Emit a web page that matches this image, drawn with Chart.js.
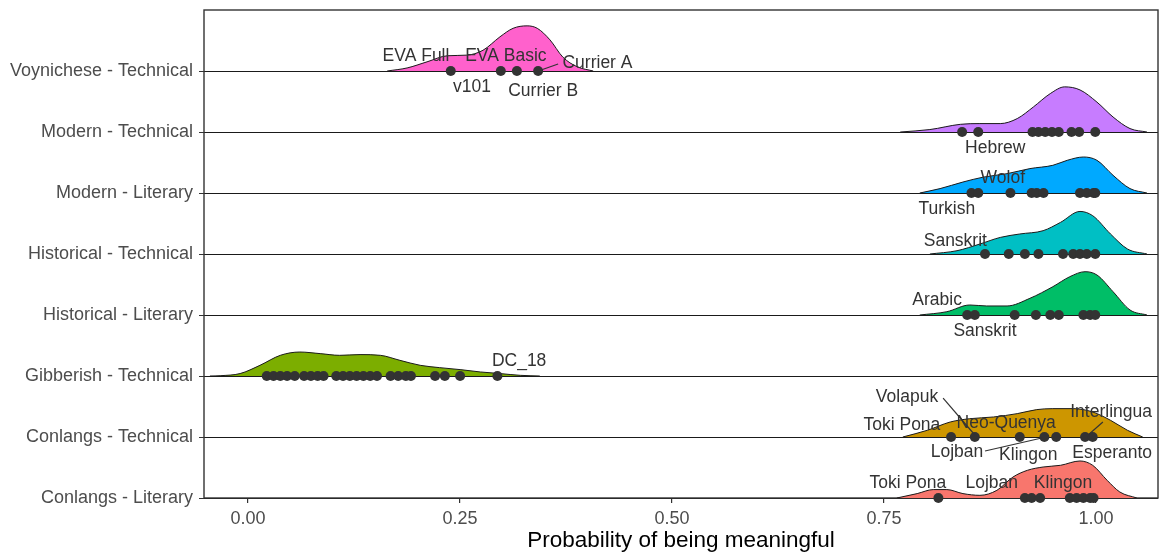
<!DOCTYPE html>
<html><head><meta charset="utf-8">
<script src="https://cdn.jsdelivr.net/npm/chart.js@4.4.1/dist/chart.umd.min.js"></script>
<style>html,body{margin:0;padding:0;background:#fff}#wrap{width:1160px;height:554px;position:relative}</style>
</head><body><div id="wrap"><canvas id="c"></canvas></div>
<script>
// ---- categories (bottom to top) ----
const categories = ["Conlangs - Literary","Conlangs - Technical","Gibberish - Technical","Historical - Literary","Historical - Technical","Modern - Literary","Modern - Technical","Voynichese - Technical"];
const xTickValues = [0, 0.25, 0.5, 0.75, 1.0];
const xTickLabels = ["0.00","0.25","0.50","0.75","1.00"];

// ---- density curves (x, relative height) ----
const densConLitX = [0.765,0.789,0.808,0.824,0.843,0.863,0.883,0.902,0.919,0.9375,0.958,0.981,0.996,1.013,1.028,1.048];
const densConLitH = [0,0.072,0.138,0.138,0.072,0.044,0.126,0.344,0.454,0.508,0.536,0.607,0.536,0.29,0.098,0];
const densConTechX = [0.772,0.801,0.828,0.851,0.879,0.907,0.930,0.949,0.973,0.996,1.017,1.037,1.055];
const densConTechH = [0,0.11,0.246,0.30,0.328,0.383,0.449,0.465,0.465,0.41,0.274,0.11,0];
const densGibX = [-0.045,-0.033,-0.0094,0.014,0.038,0.061,0.085,0.108,0.132,0.156,0.179,0.203,0.226,0.25,0.274,0.297,0.321,0.344];
const densGibH = [0,0.005,0.04,0.175,0.339,0.393,0.367,0.339,0.351,0.339,0.257,0.175,0.137,0.105,0.066,0.04,0.011,0];
const densHistLitX = [0.792,0.824,0.851,0.871,0.895,0.922,0.949,0.969,0.987,1.001,1.020,1.040,1.060];
const densHistLitH = [0,0.054,0.164,0.148,0.148,0.274,0.464,0.628,0.71,0.656,0.382,0.082,0];
const densHistTechX = [0.804,0.836,0.863,0.887,0.910,0.9375,0.958,0.981,0.996,1.017,1.037,1.060];
const densHistTechH = [0,0.054,0.164,0.272,0.328,0.382,0.518,0.698,0.628,0.328,0.082,0];
const densModLitX = [0.792,0.816,0.843,0.867,0.895,0.922,0.949,0.966,0.985,1.001,1.020,1.040,1.060];
const densModLitH = [0,0.072,0.18,0.26,0.317,0.40,0.454,0.536,0.59,0.536,0.29,0.072,0];
const densModTechX = [0.769,0.804,0.840,0.863,0.887,0.907,0.926,0.946,0.963,0.981,1.001,1.020,1.040,1.060];
const densModTechH = [0,0.04,0.126,0.138,0.138,0.22,0.41,0.63,0.74,0.69,0.49,0.246,0.056,0];
const densVoyX = [0.164,0.1875,0.211,0.235,0.258,0.277,0.297,0.3125,0.329,0.341,0.356,0.371,0.388,0.407];
const densVoyH = [0,0.05,0.15,0.25,0.26,0.34,0.56,0.70,0.74,0.70,0.51,0.23,0.07,0];

// ---- individual points ----
const ptsConLit = [0.814,0.916,0.924,0.934,0.969,0.977,0.985,0.993,0.997];
const ptsConTech = [0.829,0.857,0.910,0.939,0.953,0.987,0.996];
const ptsGib = [0.022,0.030,0.038,0.046,0.055,0.066,0.074,0.082,0.089,0.104,0.112,0.120,0.128,0.136,0.144,0.152,0.168,0.177,0.186,0.192,0.2205,0.232,0.25,0.294];
const ptsHistLit = [0.848,0.857,0.904,0.929,0.946,0.956,0.985,0.993,0.999];
const ptsHistTech = [0.869,0.897,0.916,0.932,0.961,0.973,0.981,0.989,0.999];
const ptsModLit = [0.853,0.861,0.899,0.924,0.930,0.938,0.981,0.989,0.997,0.999];
const ptsModTech = [0.842,0.861,0.925,0.932,0.940,0.948,0.956,0.971,0.980,0.999];
const ptsVoy = [0.239,0.298,0.317,0.342];

// ---- text labels (data coordinates) ----
const labelText = ["v101","EVA Full","EVA Basic","Currier A","Currier B","Hebrew","Wolof","Turkish","Sanskrit","Arabic","Sanskrit","DC_18","Toki Pona","Volapuk","Neo-Quenya","Interlingua","Lojban","Klingon","Esperanto","Toki Pona","Lojban","Klingon"];
const labelX = [0.264,0.198,0.304,0.412,0.348,0.881,0.890,0.824,0.834,0.8125,0.869,0.3196,0.771,0.777,0.894,1.0177,0.836,0.920,1.019,0.778,0.877,0.961];
const labelY = [7.738,8.246,8.246,8.131,7.672,6.738,6.246,5.738,5.213,4.246,3.738,3.246,2.197,2.656,2.230,2.410,1.754,1.705,1.738,1.246,1.246,1.246];
// connector segments
const segX1 = [0.3455,0.8196,1.008,0.869];
const segY1 = [8.016,2.639,2.246,1.770];
const segX2 = [0.3656,0.857,0.9906,0.936];
const segY2 = [8.115,2.033,2.033,1.984];

const colors = ["#F8766D","#CD9600","#7CAE00","#00BE67","#00BFC4","#00A9FF","#C77CFF","#FF61CC"];
const densX = [densConLitX,densConTechX,densGibX,densHistLitX,densHistTechX,densModLitX,densModTechX,densVoyX];
const densH = [densConLitH,densConTechH,densGibH,densHistLitH,densHistTechH,densModLitH,densModTechH,densVoyH];
const pts = [ptsConLit,ptsConTech,ptsGib,ptsHistLit,ptsHistTech,ptsModLit,ptsModTech,ptsVoy];

const datasets = [];
categories.forEach((c, i) => {
  const base = i + 1;
  datasets.push({
    type: 'line', label: c + ' density', order: 2,
    data: densX[i].map((x, k) => ({x: x, y: base + densH[i][k]})),
    fill: {value: base}, backgroundColor: colors[i], borderColor: '#1a1a1a', borderWidth: 1,
    pointRadius: 0, cubicInterpolationMode: 'monotone'
  });
  datasets.push({
    type: 'scatter', label: c + ' points', order: 1, clip: false,
    data: pts[i].map(x => ({x: x, y: base})),
    pointRadius: 5, pointHoverRadius: 5, backgroundColor: '#333333', borderWidth: 0
  });
});

const frame = {
  id: 'frame',
  beforeDatasetsDraw(chart) {
    const a = chart.chartArea, ctx = chart.ctx;
    ctx.save(); ctx.strokeStyle = '#333'; ctx.lineWidth = 1.4;
    ctx.strokeRect(a.left, a.top, a.right - a.left, a.bottom - a.top);
    ctx.restore();
  }
};
const labels = {
  id: 'labels',
  afterDatasetsDraw(chart) {
    const ctx = chart.ctx, xs = chart.scales.x, ys = chart.scales.y;
    ctx.save();
    ctx.strokeStyle = '#333'; ctx.lineWidth = 1.2;
    segX1.forEach((v, i) => {
      ctx.beginPath();
      ctx.moveTo(xs.getPixelForValue(v), ys.getPixelForValue(segY1[i]));
      ctx.lineTo(xs.getPixelForValue(segX2[i]), ys.getPixelForValue(segY2[i]));
      ctx.stroke();
    });
    ctx.fillStyle = '#333'; ctx.font = '17.5px "Liberation Sans", Arial, sans-serif';
    ctx.textAlign = 'center'; ctx.textBaseline = 'middle';
    labelText.forEach((t, i) => {
      ctx.fillText(t, xs.getPixelForValue(labelX[i]), ys.getPixelForValue(labelY[i]));
    });
    ctx.restore();
  }
};

new Chart(document.getElementById('c'), {
  data: {datasets: datasets},
  options: {
    responsive: true, maintainAspectRatio: false, animation: false,
    layout: {autoPadding: false, padding: {left: 0, right: 2, top: 10, bottom: 0}},
    plugins: {legend: {display: false}, tooltip: {enabled: false}},
    scales: {
      x: {
        type: 'linear', min: -0.052, max: 1.073,
        afterBuildTicks: s => { s.ticks = xTickValues.map(v => ({value: v})); },
        afterFit: s => { s.height = 56; s.paddingLeft = 0; s.paddingRight = 0; },
        ticks: {callback: (v) => xTickLabels[xTickValues.indexOf(v)], color: '#4D4D4D', padding: 5,
                font: {family: '"Liberation Sans", Arial, sans-serif', size: 18}, maxRotation: 0},
        grid: {drawOnChartArea: false, drawTicks: true, tickLength: 5, tickColor: '#333', lineWidth: 1.2},
        border: {display: false},
        title: {display: true, text: 'Probability of being meaningful', color: '#000',
                font: {family: '"Liberation Sans", Arial, sans-serif', size: 22.5}, padding: {top: 0, bottom: 0}}
      },
      y: {
        type: 'linear', min: 1, max: 9,
        afterBuildTicks: s => { s.ticks = categories.map((c, i) => ({value: i + 1})); },
        afterFit: s => { s.width = 204; s.paddingTop = 0; s.paddingBottom = 0; },
        ticks: {callback: (v) => categories[v - 1], color: '#4D4D4D', padding: 6,
                font: {family: '"Liberation Sans", Arial, sans-serif', size: 18}},
        grid: {color: '#1a1a1a', lineWidth: 1, tickLength: 5, tickColor: '#333'},
        border: {display: false}
      }
    }
  },
  plugins: [frame, labels]
});
</script></body></html>
